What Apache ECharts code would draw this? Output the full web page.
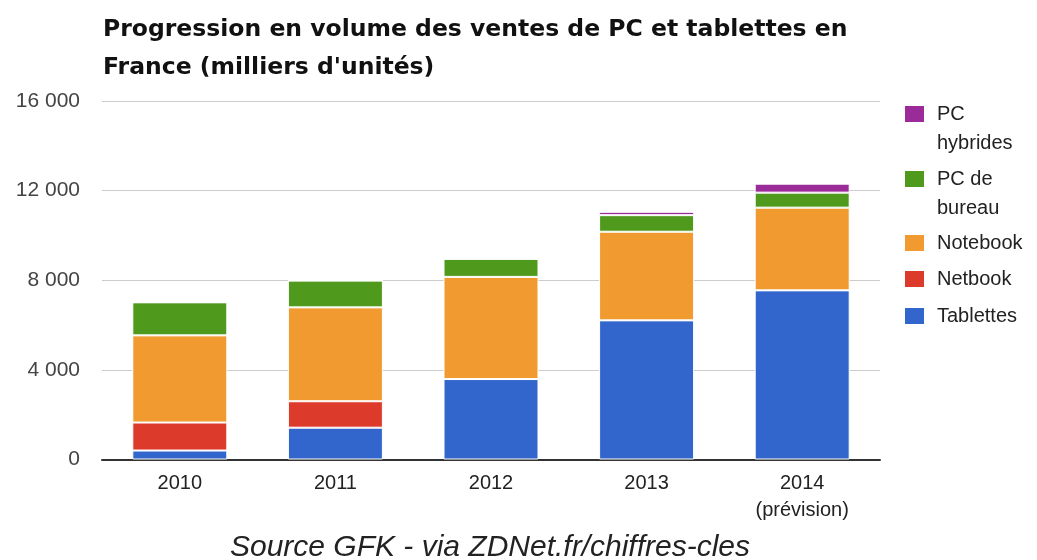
<!DOCTYPE html>
<html>
<head>
<meta charset="utf-8">
<script src="https://cdn.jsdelivr.net/npm/echarts@6/dist/echarts.min.js"></script>
<style>
  html, body { margin: 0; padding: 0; background: #fff; }
  #chart { width: 1037px; height: 560px; }
</style>
</head>
<body>
<div id="chart"></div>
<script>
// milliers d'unités
const years = ['2010', '2011', '2012', '2013', '2014\n(prévision)'];
const tablettes = [400, 1420, 3590, 6210, 7550];
const netbook = [1250, 1180, 0, 0, 0];
const notebook = [3890, 4190, 4560, 3955, 3690];
const pcBureau = [1475, 1195, 805, 740, 670];
const pcHybrides = [0, 0, 0, 150, 400];
const yTicks = [0, 4000, 8000, 12000, 16000];

const seriesDefs = [
  { name: 'Tablettes', data: tablettes, color: '#3366cc' },
  { name: 'Netbook', data: netbook, color: '#dc3a2b' },
  { name: 'Notebook', data: notebook, color: '#f09a30' },
  { name: 'PC de bureau', data: pcBureau, color: '#4f9a1c' },
  { name: 'PC hybrides', data: pcHybrides, color: '#9a2b98' }
];

const chart = echarts.init(document.getElementById('chart'));

// legend labels wrap like the original; the leading empty line keeps
// the colour square level with the first line of text
const legendLabel = {
  'PC hybrides': '\nPC\nhybrides',
  'PC de bureau': '\nPC de\nbureau'
};
const legendTops = {
  'PC hybrides': 70.5,
  'PC de bureau': 135.5,
  'Notebook': 228.5,
  'Netbook': 264.5,
  'Tablettes': 301.5
};

const legends = seriesDefs.map(s => ({
  data: [s.name],
  orient: 'vertical',
  left: 903,
  top: legendTops[s.name],
  padding: 0,
  icon: 'rect',
  itemWidth: 21,
  itemHeight: 18,
  formatter: name => legendLabel[name] || name,
  textStyle: {
    fontFamily: 'Liberation Sans, Arial, sans-serif',
    fontSize: 20,
    color: '#222',
    lineHeight: 29,
    padding: [0, 0, 0, 7]
  }
}));

const option = {
  animation: false,
  backgroundColor: '#fff',
  title: [
    {
      text: 'Progression en volume des ventes de PC et tablettes en\nFrance (milliers d\'unités)',
      left: 103,
      top: 10.5,
      padding: 0,
      textStyle: {
        fontFamily: 'DejaVu Sans, sans-serif',
        fontWeight: 'bold',
        fontSize: 23.5,
        lineHeight: 38,
        color: '#111'
      }
    },
    {
      text: 'Source GFK - via ZDNet.fr/chiffres-cles',
      left: 490,
      top: 533,
      textAlign: 'center',
      padding: 0,
      textStyle: {
        fontFamily: 'Liberation Sans, Arial, sans-serif',
        fontStyle: 'italic',
        fontWeight: 'normal',
        fontSize: 30,
        lineHeight: 30,
        color: '#222'
      }
    }
  ],
  legend: legends,
  grid: {
    left: 102,
    right: 157,
    top: 101,
    bottom: 100.5,
    containLabel: false
  },
  xAxis: {
    type: 'category',
    data: years,
    axisTick: { show: false },
    axisLine: { lineStyle: { color: '#333', width: 2 } },
    axisLabel: {
      fontFamily: 'Liberation Sans, Arial, sans-serif',
      fontSize: 20,
      color: '#222',
      lineHeight: 27,
      margin: 10
    }
  },
  yAxis: {
    type: 'value',
    min: yTicks[0],
    max: yTicks[yTicks.length - 1],
    interval: yTicks[1] - yTicks[0],
    axisLine: { show: false },
    axisTick: { show: false },
    splitLine: { lineStyle: { color: '#cccccc', width: 1 } },
    axisLabel: {
      fontFamily: 'Liberation Sans, Arial, sans-serif',
      fontSize: 21,
      color: '#444',
      margin: 22,
      formatter: v => String(v).replace(/\B(?=(\d{3})+(?!\d))/g, ' ')
    }
  },
  series: seriesDefs.map(s => ({
    name: s.name,
    type: 'bar',
    stack: 'ventes',
    barWidth: 95,
    data: s.data,
    itemStyle: {
      color: s.color,
      borderColor: '#ffffff',
      borderWidth: 1
    },
    emphasis: { disabled: true }
  }))
};

chart.setOption(option);
</script>
</body>
</html>
